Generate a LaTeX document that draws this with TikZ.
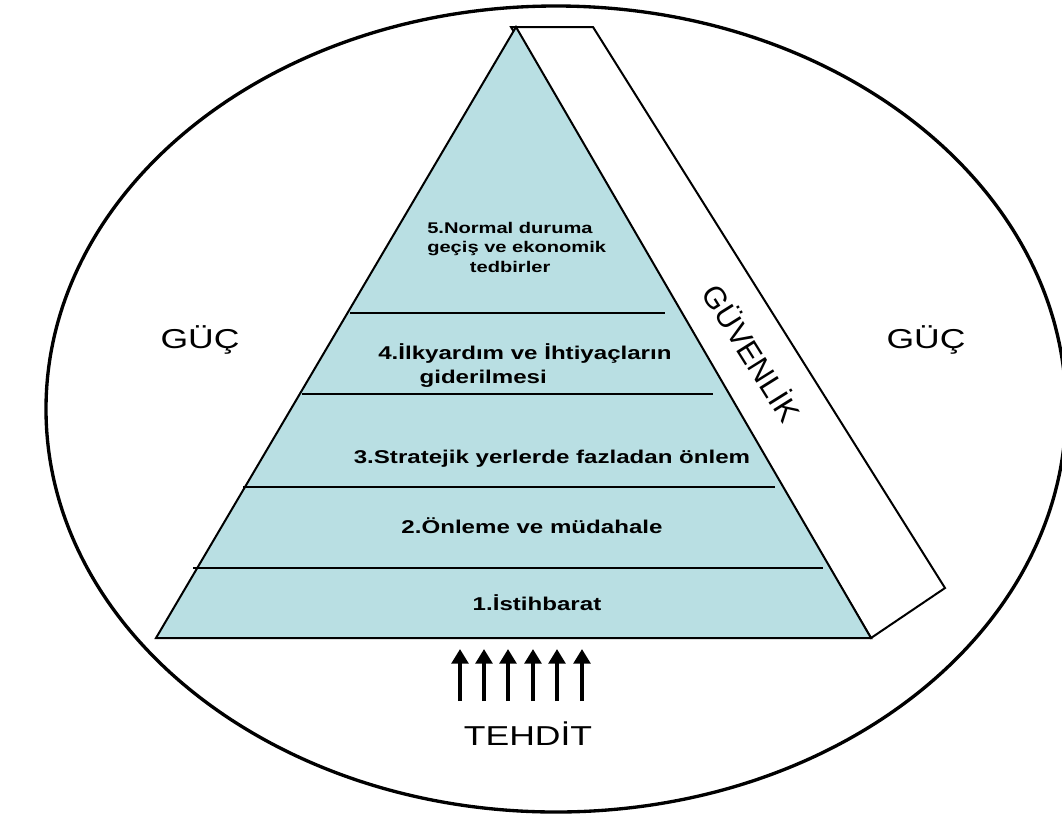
\documentclass[tikz,border=0pt]{standalone}
\usepackage{fontspec}
\setmainfont{Liberation Sans}
\newfontfamily\widefont[FakeStretch=1.3]{Liberation Sans}
\usetikzlibrary{arrows.meta}
\definecolor{pyrfill}{HTML}{B9DFE3}

\begin{document}
\begin{tikzpicture}[x=0.75pt,y=-0.75pt]
\tikzset{every node/.style={inner sep=0pt},
  level/.style={font=\widefont\bfseries\fontsize{13.9}{18}\selectfont},
  toplevel/.style={font=\widefont\bfseries\fontsize{11.6}{14.6}\selectfont},
  side/.style={font=\widefont\fontsize{20.5}{24}\selectfont},
  threat/.style={line width=3pt,-{Triangle[length=11pt,width=12.5pt]}}}
\useasboundingbox (0,0) rectangle (1062,818);
\clip (0,0) rectangle (1062,818);
% outer ellipse
\draw [line width=2.5pt] (556,409) ellipse [x radius=510, y radius=403];
% pyramid corners
\coordinate (apex) at (516,27);
\coordinate (baseL) at (156,638);
\coordinate (baseR) at (871,638);
\coordinate (slabT) at (593,27);
\coordinate (slabR) at (945,588);
% side slab
\draw [line width=1.5pt,fill=white,line join=miter] (511,27) -- (slabT) -- (slabR) -- (baseR) -- cycle;
% pyramid
\draw [line width=1.5pt,fill=pyrfill] (apex) -- (baseR) -- (baseL) -- cycle;
\draw [line width=1.2pt] (350,313) -- (665,313);
\draw [line width=1.2pt] (302,394) -- (713,394);
\draw [line width=1.2pt] (243,487) -- (775,487);
\draw [line width=1.2pt] (193,568) -- (823,568);
% level labels
\node (sec5) [toplevel,align=left,anchor=west] at (427,247) {5.Normal duruma\\geçiş ve ekonomik\\\hspace*{32pt}tedbirler};
\node (sec4) [level,align=left,anchor=west] at (378,366) {4.İlkyardım ve İhtiyaçların\\\hspace*{31pt}giderilmesi};
\node (sec3) [level,anchor=base] at (552,463) {3.Stratejik yerlerde fazladan önlem};
\node (sec2) [level,anchor=base] at (532,533) {2.Önleme ve müdahale};
\node (sec1) [level,anchor=base] at (537,610) {1.İstihbarat};
% side labels
\node (gucL) [side,anchor=base] at (200,348) {GÜÇ};
\node (gucR) [side,anchor=base] at (926,348) {GÜÇ};
\node (guvenlik) [font=\fontsize{23}{26}\selectfont,rotate=-58] at (753,352) {GÜVENLİK};
\node (tehdit) [side,anchor=base] at (528,745) {TEHDİT};
% threat arrows
\foreach \i/\x in {1/460,2/484,3/508,4/533,5/557,6/582} {
  \coordinate (t\i) at (\x,701);
  \coordinate (h\i) at (\x,649);
  \draw [threat] (t\i) -- (h\i);
}
\end{tikzpicture}
\end{document}
